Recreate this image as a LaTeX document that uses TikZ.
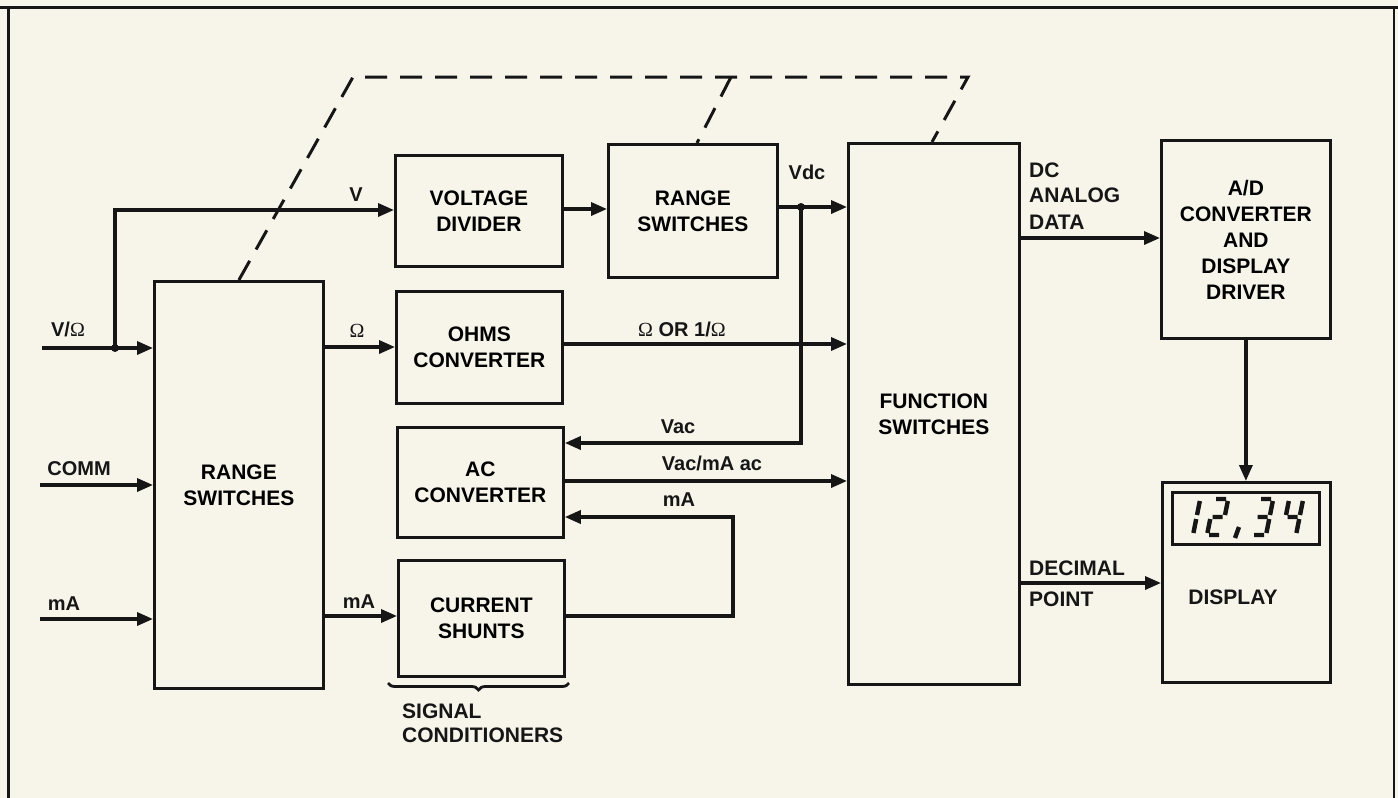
\documentclass[tikz,border=0pt]{standalone}
\usepackage{fontspec}
\setmainfont{Liberation Sans}
\newfontfamily\omegafont{Liberation Serif}
\usetikzlibrary{arrows.meta,decorations.pathreplacing}
\definecolor{paper}{RGB}{247,244,234}
\definecolor{ink}{RGB}{22,22,22}
\newcommand{\bxfont}{\fontsize{21}{26}\selectfont\bfseries}
\newcommand{\lbfont}{\fontsize{20}{24}\selectfont\bfseries}
\newcommand{\Om}{{\omegafont\mdseries Ω}}
\begin{document}
\begin{tikzpicture}[x=1pt,y=-1pt,
  box/.style={draw=ink,line width=2.8pt,inner sep=0pt,align=center,font=\bxfont,anchor=north west},
  lbl/.style={inner sep=0pt,text depth=0pt,font=\lbfont,text=ink},
  blbl/.style={inner sep=0pt,text depth=0pt,font=\bxfont,text=ink,anchor=west},
  wire/.style={draw=ink,line width=3.4pt},
  arr/.style={-{Triangle[length=16pt,width=13pt]}},
  mech/.style={draw=ink,line width=3pt,dash pattern=on 22pt off 13pt},
  seg/.style={draw=ink,line width=4.4pt,line cap=butt},
  frame/.style={draw=ink,line width=3pt}]
\useasboundingbox (0,0) rectangle (1398,798);
\fill[paper] (0,0) rectangle (1398,798);
% frame
\draw[frame] (0,7) -- (1398,7);
\draw[frame] (8,7) -- (8,798);
\draw[frame,line width=2.4pt] (1394,7) -- (1394,798);
% boxes
\node[box,minimum width=169pt,minimum height=407pt] (RS1) at (153,280) {RANGE\\SWITCHES};
\node[box,minimum width=167pt,minimum height=111pt] (VD) at (394,154) {VOLTAGE\\DIVIDER};
\node[box,minimum width=169pt,minimum height=133pt] (RS2) at (607,143) {RANGE\\SWITCHES};
\node[box,minimum width=166pt,minimum height=112pt] (OHMS) at (395,290) {OHMS\\CONVERTER};
\node[box,minimum width=166pt,minimum height=110pt] (AC) at (396,426) {AC\\CONVERTER};
\node[box,minimum width=166pt,minimum height=116pt] (CS) at (397,559) {CURRENT\\SHUNTS};
\node[box,minimum width=171pt,minimum height=541pt] (FS) at (847,142) {FUNCTION\\SWITCHES};
\node[box,minimum width=169pt,minimum height=198pt] (AD) at (1160,139) {A/D\\CONVERTER\\AND\\DISPLAY\\DRIVER};
\node[box,minimum width=168pt,minimum height=200pt] (DISP) at (1161,481) {};
\node[box,line width=2.5pt,minimum width=147pt,minimum height=52pt] (LCD) at (1171,491) {};
\node[lbl,font=\bxfont] (DISPtxt) at (1233,597) {DISPLAY};
% seven segment digits
\begin{scope}[shift={(1179,535)},xslant=0.2]
  \draw[seg] (14,-34) -- (14,-20) (14,-16) -- (14,-2);
\end{scope}
\begin{scope}[shift={(1207,535)},xslant=0.2]
  \draw[seg] (2,-36) -- (12,-36) (14,-34) -- (14,-20) (2,-18) -- (12,-18)
             (0,-16) -- (0,-2) (2,0) -- (12,0);
\end{scope}
\draw[seg] (1239,527) -- (1235,538);
\begin{scope}[shift={(1252,535)},xslant=0.2]
  \draw[seg] (2,-36) -- (12,-36) (14,-34) -- (14,-20) (2,-18) -- (12,-18)
             (14,-16) -- (14,-2) (2,0) -- (12,0);
\end{scope}
\begin{scope}[shift={(1282,535)},xslant=0.2]
  \draw[seg] (0,-34) -- (0,-20) (2,-18) -- (12,-18)
             (14,-34) -- (14,-20) (14,-16) -- (14,-2);
\end{scope}
% named coordinates
\coordinate (inVO) at (42,348);
\coordinate (jVO) at (115,348);
\coordinate (yV) at (0,210);
\coordinate (inCOMM) at (40,485);
\coordinate (inMA) at (40,619);
\coordinate (yOhm) at (0,347);
\coordinate (yCS) at (0,616);
\coordinate (yVD) at (0,209);
\coordinate (yVdc) at (0,207);
\coordinate (jVdc) at (801,207);
\coordinate (yVac) at (0,443);
\coordinate (yOR) at (0,344);
\coordinate (yAC) at (0,481);
\coordinate (yMA) at (0,517);
\coordinate (cLoop) at (733,517);
\coordinate (yDC) at (0,238);
\coordinate (yDP) at (0,583);
% mechanical linkage
\coordinate (m1) at (353,77);
\coordinate (m2) at (731,77);
\coordinate (m3) at (968,77);
\coordinate (m4) at (932,142);
\coordinate (m5) at (697,143);
\draw[mech] (RS1.north) -- (m1) -- (m3) -- (m4);
\draw[mech] (m2) -- (m5);
% connectors
\draw[wire,arr] (inVO) -- (RS1.west |- inVO);
\draw[wire,arr] (jVO) |- (VD.west |- yV);
\fill[ink] (jVO) circle (4pt);
\draw[wire,arr] (inCOMM) -- (RS1.west |- inCOMM);
\draw[wire,arr] (inMA) -- (RS1.west |- inMA);
\draw[wire,arr] (RS1.east |- yOhm) -- (OHMS.west |- yOhm);
\draw[wire,arr] (RS1.east |- yCS) -- (CS.west |- yCS);
\draw[wire,arr] (VD.east |- yVD) -- (RS2.west |- yVD);
\draw[wire,arr] (RS2.east |- yVdc) -- (FS.west |- yVdc);
\draw[wire,arr] (jVdc) |- (AC.east |- yVac);
\fill[ink] (jVdc) circle (4pt);
\draw[wire,arr] (OHMS.east |- yOR) -- (FS.west |- yOR);
\draw[wire,arr] (AC.east |- yAC) -- (FS.west |- yAC);
\draw[wire,arr] (CS.east |- yCS) -| (cLoop) -- (AC.east |- yMA);
\draw[wire,arr] (FS.east |- yDC) -- (AD.west |- yDC);
\draw[wire,arr] (AD.south) -- (AD.south |- DISP.north);
\draw[wire,arr] (FS.east |- yDP) -- (DISP.west |- yDP);
% brace
\draw[draw=ink,line width=2.8pt,decorate,decoration={brace,amplitude=7pt,mirror}] (388,683) -- (569,683);
% labels
\node[lbl] (tVO) at (68,329) {V/\Om};
\node[lbl] (tV) at (356,195) {V};
\node[lbl] (tOm) at (357,331) {\Om};
\node[lbl] (tCOMM) at (79,469) {COMM};
\node[lbl] (tmA1) at (64,604) {mA};
\node[lbl] (tmA2) at (359,602) {mA};
\node[lbl] (tVdc) at (807,172) {Vdc};
\node[lbl] (tOR) at (682,329) {\Om{} OR 1/\Om};
\node[lbl] (tVac) at (678,427) {Vac};
\node[lbl] (tVacmA) at (712,463) {Vac/mA ac};
\node[lbl] (tmA3) at (679,500) {mA};
\node[blbl] (tDC) at (1029,170) {DC};
\node[blbl] (tAN) at (1029,195) {ANALOG};
\node[blbl] (tDA) at (1029,222) {DATA};
\node[blbl] (tDEC) at (1029,568) {DECIMAL};
\node[blbl] (tPT) at (1029,599) {POINT};
\node[blbl] (tSIG) at (402,711) {SIGNAL};
\node[blbl] (tCOND) at (402,735) {CONDITIONERS};
\end{tikzpicture}
\end{document}
